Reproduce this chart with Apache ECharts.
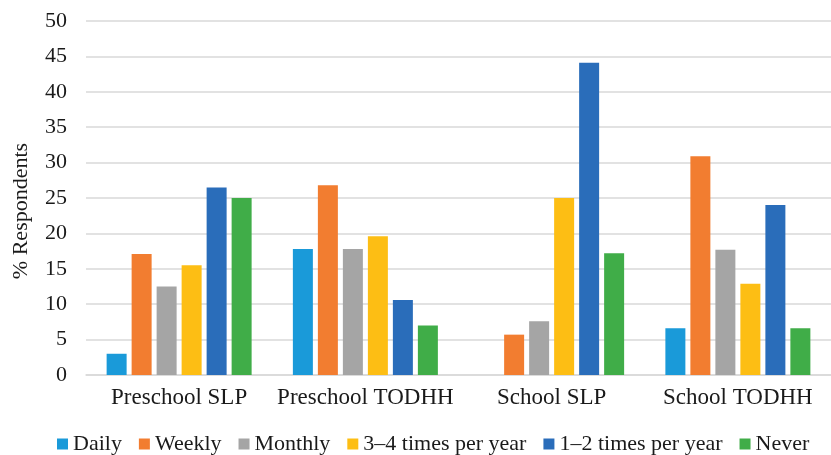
<!DOCTYPE html>
<html>
<head>
<meta charset="utf-8">
<script src="https://cdn.jsdelivr.net/npm/echarts@6/dist/echarts.min.js"></script>
<style>html,body{margin:0;padding:0;background:#fff;}#c{width:831px;height:455px;}</style>
</head>
<body>
<div id="c"></div>
<script>
var categories = ['Preschool SLP', 'Preschool TODHH', 'School SLP', 'School TODHH'];
var seriesNames = ['Daily', 'Weekly', 'Monthly', '3\u20134 times per year', '1\u20132 times per year', 'Never'];
var daily   = [3.0, 17.8, 0, 6.6];
var weekly  = [17.1, 26.8, 5.7, 30.9];
var monthly = [12.5, 17.8, 7.6, 17.7];
var times34 = [15.5, 19.6, 25.0, 12.9];
var times12 = [26.5, 10.6, 44.1, 24.0];
var never   = [25.0, 7.0, 17.2, 6.6];
var yTicks = [0, 5, 10, 15, 20, 25, 30, 35, 40, 45, 50];

var colors = ['#1A9AD9', '#F27D30', '#A5A5A5', '#FDBE14', '#2A6DBA', '#40AD48'];
var values = [daily, weekly, monthly, times34, times12, never];
var font = 'Liberation Serif';

var chart = echarts.init(document.getElementById('c'), null, {renderer: 'canvas'});
chart.setOption({
  animation: false,
  color: colors,
  grid: {left: 86, top: 21, bottom: 80, right: -11, containLabel: false},
  legend: {
    bottom: -5,
    left: 52,
    icon: 'rect',
    itemWidth: 11,
    itemHeight: 11,
    itemGap: 17,
    textStyle: {fontFamily: font, fontSize: 22, color: '#1a1a1a'},
    data: seriesNames
  },
  xAxis: {
    type: 'category',
    data: categories,
    axisLine: {lineStyle: {color: '#D9D9D9', width: 1.5}},
    axisTick: {show: false},
    axisLabel: {fontFamily: font, fontSize: 23, color: '#1a1a1a', margin: 11, interval: 0}
  },
  yAxis: {
    type: 'value',
    min: yTicks[0],
    max: yTicks[yTicks.length - 1],
    interval: 5,
    name: '% Respondents',
    nameLocation: 'middle',
    nameGap: 54,
    nameTextStyle: {fontFamily: font, fontSize: 22, color: '#1a1a1a', padding: [0, 26, 0, 0]},
    axisLine: {show: false},
    axisTick: {show: false},
    splitLine: {lineStyle: {color: '#D9D9D9', width: 1.5}},
    axisLabel: {fontFamily: font, fontSize: 22, color: '#1a1a1a', margin: 19}
  },
  series: seriesNames.map(function (n, i) {
    return {
      name: n,
      type: 'bar',
      data: values[i],
      barWidth: 20,
      barGap: '25%'
    };
  })
});
</script>
</body>
</html>
